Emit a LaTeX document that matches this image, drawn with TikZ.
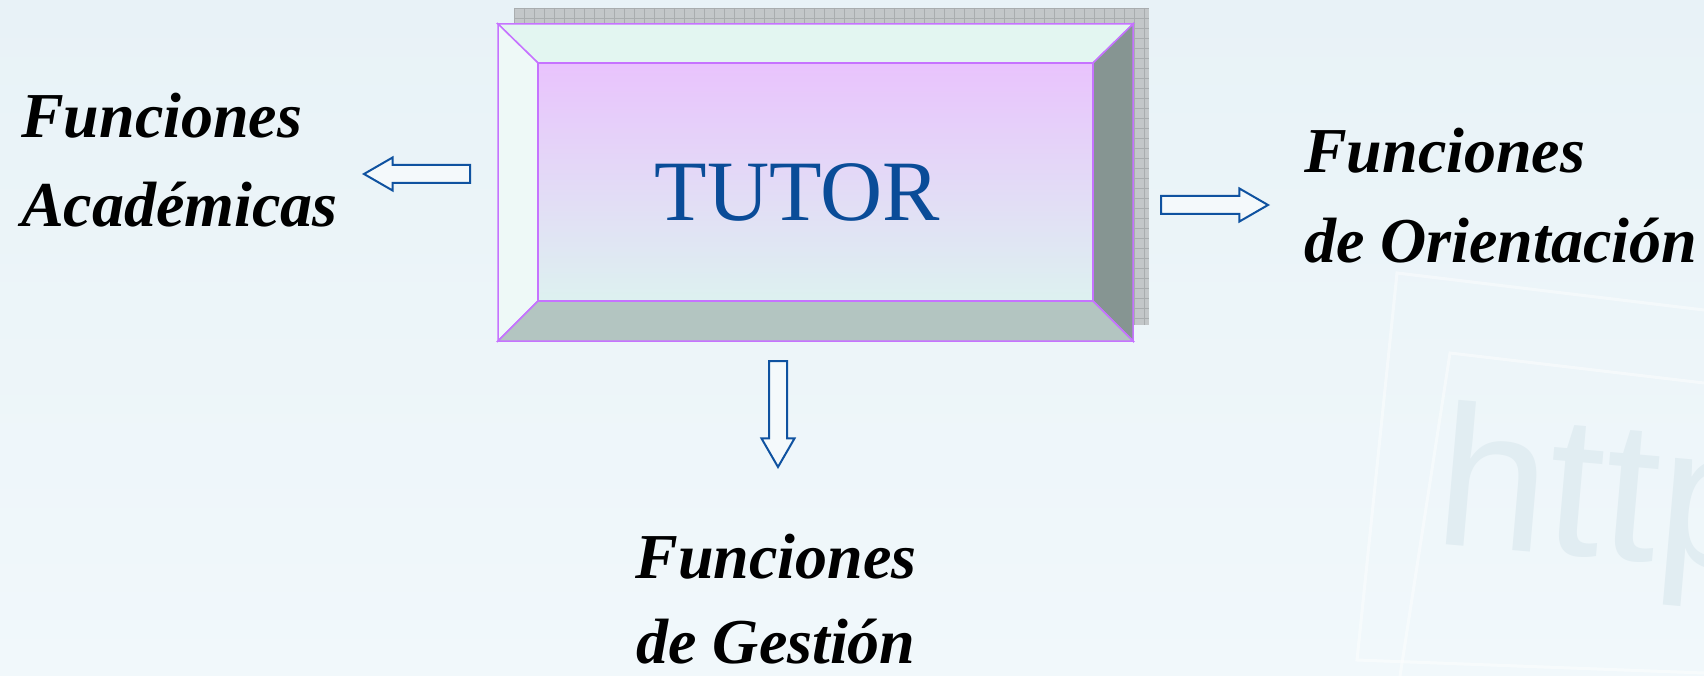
\documentclass[tikz,border=0pt]{standalone}
\usepackage{fontspec}
\setmainfont{Liberation Serif}
\newfontfamily\watermarkfont{Liberation Sans}
\usepackage{xcolor}
\usetikzlibrary{shapes.arrows}

\definecolor{fondo}{HTML}{EDF5F9}
\definecolor{fondoarriba}{HTML}{E8F2F7}
\definecolor{fondoabajo}{HTML}{F1F8FB}
\definecolor{marca}{HTML}{E1EDF2}
\definecolor{borde}{HTML}{C673FF}
\definecolor{sombra}{HTML}{C3C7C9}
\definecolor{rejilla}{HTML}{A9ADAF}
\definecolor{biselsup}{HTML}{E3F6F1}
\definecolor{biselizq}{HTML}{EEF9F7}
\definecolor{biselder}{HTML}{869592}
\definecolor{biselinf}{HTML}{B3C5C1}
\definecolor{caraarriba}{HTML}{E9C3FD}
\definecolor{caraabajo}{HTML}{DDF1F0}
\definecolor{azultutor}{HTML}{0A4C98}
\definecolor{azulflecha}{HTML}{0F52A0}

\begin{document}
\begin{tikzpicture}[
  x=1pt, y=-1pt,
  bevel/.style={
    draw=borde,
    line width=1.5
  },
  blockarrow/.style={
    single arrow,
    draw=azulflecha,
    fill=fondo!60!white,
    line width=2,
    inner sep=8,
    single arrow tip angle=60,
    single arrow head extend=7.5,
    anchor=tip
  },
  funciontext/.style={
    font=\fontsize{64}{89}\bfseries\itshape\selectfont,
    align=left,
    inner sep=0
  }
]
  \useasboundingbox (0,0) rectangle (1704,676);
  \shade[top color=fondoarriba, bottom color=fondoabajo] (0,0) rectangle (1704,676);
  % faint http watermark
  \draw[white, line width=3, opacity=0.45] (1704,310) -- (1397,273) -- (1357,660) -- (1704,673);
  \draw[white, line width=3, opacity=0.45] (1704,383) -- (1450,353) -- (1400,676);
  \node[font=\watermarkfont\fontsize{200}{200}\selectfont, text=marca, anchor=base west,
    rotate=-5, inner sep=0] (http) at (1432,543) {http};

  % shadow with grid
  \fill[sombra] (514,8) rectangle (1149,325);
  \foreach \gx in {514,524,...,1149}
    \draw[rejilla, line width=0.6] (\gx,8) -- (\gx,325);
  \foreach \gy in {8,18,...,325}
    \draw[rejilla, line width=0.6] (514,\gy) -- (1149,\gy);

  % bevelled box
  \path (498,24) coordinate (onw) (1133,341) coordinate (ose)
        (538,63) coordinate (inw) (1093,301) coordinate (ise);
  \filldraw[bevel, fill=biselsup] (onw) -- (onw -| ose) -- (inw -| ise) -- (inw) -- cycle;
  \filldraw[bevel, fill=biselizq] (onw) -- (inw) -- (inw |- ise) -- (onw |- ose) -- cycle;
  \filldraw[bevel, fill=biselder] (onw -| ose) -- (ose) -- (ise) -- (inw -| ise) -- cycle;
  \filldraw[bevel, fill=biselinf] (onw |- ose) -- (ose) -- (ise) -- (inw |- ise) -- cycle;
  \draw[bevel, top color=caraarriba, bottom color=caraabajo] (inw) rectangle (ise);
  \node[font=\fontsize{86}{86}\selectfont, text=azultutor, anchor=base, inner sep=0]
    (tutor) at (797,221) {TUTOR};

  % arrows
  \node[blockarrow, shape border rotate=180, minimum height=106, minimum width=31]
    (flechaizq) at (362,174) {};
  \node[blockarrow, shape border rotate=270, minimum height=106, minimum width=30]
    (flechaabajo) at (778,469) {};
  \node[blockarrow, minimum height=107, minimum width=32]
    (flechader) at (1270,205) {};

  % labels (anchored on the last line)
  \node[funciontext, anchor=base west] (academicas) at (21,227)
    {Funciones\\Académicas};
  \node[funciontext, anchor=base west] (orientacion) at (1304,262)
    {Funciones\\de Orientación};
  \node[funciontext, font=\fontsize{64}{85}\bfseries\itshape\selectfont,
    align=center, anchor=base] (gestion) at (776,663)
    {Funciones\\de Gestión};
\end{tikzpicture}
\end{document}
